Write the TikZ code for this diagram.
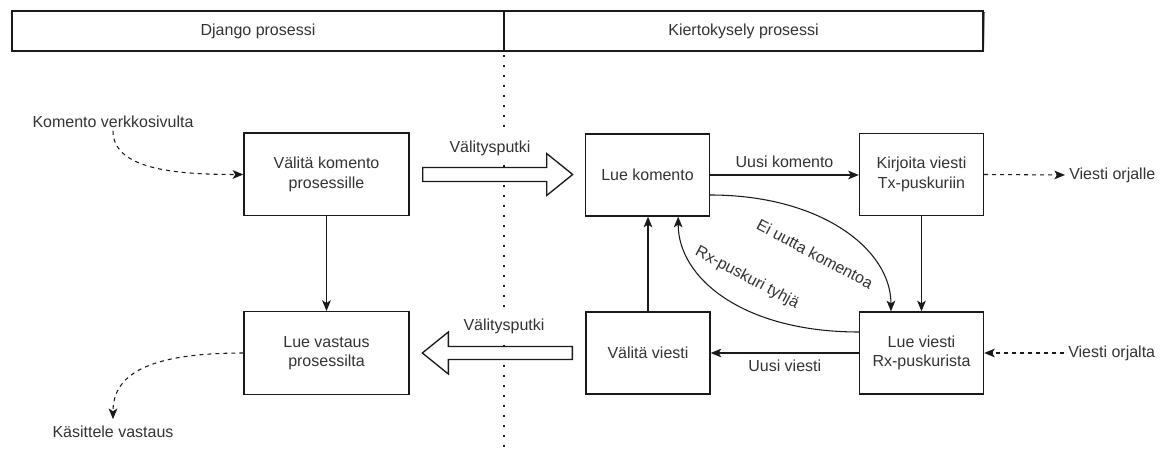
\documentclass[tikz,border=0pt]{standalone}
\usepackage{fontspec}
\setmainfont{Liberation Sans}
\usetikzlibrary{arrows.meta,calc}
\definecolor{txt}{HTML}{333333}
\definecolor{ln}{HTML}{1A1A1A}
\definecolor{shade}{HTML}{B0B0B0}

\begin{document}
\begin{tikzpicture}[x=0.75pt,y=-0.75pt,
  font=\fontsize{12pt}{14.5pt}\selectfont, text=txt,
  every node/.style={inner sep=0pt},
  box/.style={draw=ln,line width=1pt,fill=white,align=center,
              minimum width=93pt,minimum height=61.5pt},
  wbox/.style={box,minimum width=123.75pt,minimum height=62pt},
  hdr/.style={draw=ln,line width=1pt,fill=white,minimum height=30pt},
  flow/.style={draw=ln,line width=0.8pt,-{Stealth[length=8pt,width=6.5pt,inset=2pt]}},
  hint/.style={flow,dash pattern=on 3pt off 3pt},
  pipe/.style={draw=ln,line width=1pt,fill=white},
  lbl/.style={inner sep=2pt},
  pipelbl/.style={fill=white,inner xsep=2pt,inner ysep=5pt},
  divider/.style={draw=ln,line width=1.7pt,dash pattern=on 1.5pt off 6pt}
]
\useasboundingbox (0,0) rectangle (1172,452);

% process separator
\draw[divider] (504,55) -- (504,452);

% header bar with shadow
\fill[shade] (13.5,12.5) rectangle (984.5,52.5);
\node[hdr,minimum width=369pt] (djangoHdr) at (258,31) {Django prosessi};
\node[hdr,minimum width=359.25pt] (pollHdr) at (743.5,31) {Kiertokysely prosessi};

% Django side
\node[wbox] (relay) at (326.5,174.5) {Välitä komento\\prosessille};
\node[wbox] (readresp) at (326.5,353) {Lue vastaus\\prosessilta};
\node[lbl] (websrc) at (113,122) {Komento verkkosivulta};
\node[inner sep=5pt] (handle) at (113,432) {Käsittele vastaus};

% polling side
\node[box] (readcmd) at (647.5,175) {Lue komento};
\node[box] (writetx) at (921.5,174.5) {Kirjoita viesti\\Tx-puskuriin};
\node[box] (readrx) at (921.5,353) {Lue viesti\\Rx-puskurista};
\node[box] (fwd) at (648,353) {Välitä viesti};
\node[inner sep=3pt,anchor=west] (toslave) at (1065,175) {Viesti orjalle};
\node[inner sep=3pt,anchor=west] (fromslave) at (1064,353) {Viesti orjalta};

% pipes between the processes
\path (relay.east) ++(13,0) coordinate (pipeA);
\draw[pipe] (pipeA) ++(0,-7) -- ++(124,0) -- ++(0,-14) -- ++(26,21)
            -- ++(-26,21) -- ++(0,-14) -- ++(-124,0) -- cycle;
\node[pipelbl] (pipeAlbl) at (490,148) {Välitysputki};
\path (fwd.west) ++(-13,0) coordinate (pipeB);
\draw[pipe] (pipeB) ++(0,-6.5) -- ++(-124,0) -- ++(0,-14.5) -- ++(-26,21)
            -- ++(26,21) -- ++(0,-14.5) -- ++(124,0) -- cycle;
\node[pipelbl] (pipeBlbl) at (504,326) {Välitysputki};

% Django flow
\draw[hint] (websrc.south) .. controls +(0,38) and +(-70,0) .. (relay.west);
\draw[flow] (relay.south) -- (readresp.north);
\draw[hint] (readresp.west) .. controls +(-95,0) and +(0,-45) .. (handle.north);

% polling loop
\draw[flow] (readcmd.east) -- (readcmd.east -| writetx.west)
  node[midway,above=5pt] (newcmd) {Uusi komento};
\draw[flow] ([yshift=-15pt]readcmd.east) .. controls +(111,0) and +(0,-62)
  .. ([xshift=-22.9pt]readrx.north);
\node[rotate=-28] (nocmd) at (815,254) {Ei uutta komentoa};
\draw[flow] (writetx.south) -- (readrx.north);
\draw[flow] (readrx.west) -- (fwd.east)
  node[midway,below=5pt] (newmsg) {Uusi viesti};
\draw[flow] ([yshift=15.75pt]readrx.west) .. controls +(-115,0) and +(0,62)
  .. ([xshift=23pt]readcmd.south);
\node[rotate=-28] (rxempty) at (747,278) {Rx-puskuri tyhjä};
\draw[flow] (fwd.north) -- (fwd.north |- readcmd.south);

% serial link
\draw[hint] (writetx.east) -- (toslave.west);
\draw[hint] (fromslave.west) -- (readrx.east);
\end{tikzpicture}
\end{document}
